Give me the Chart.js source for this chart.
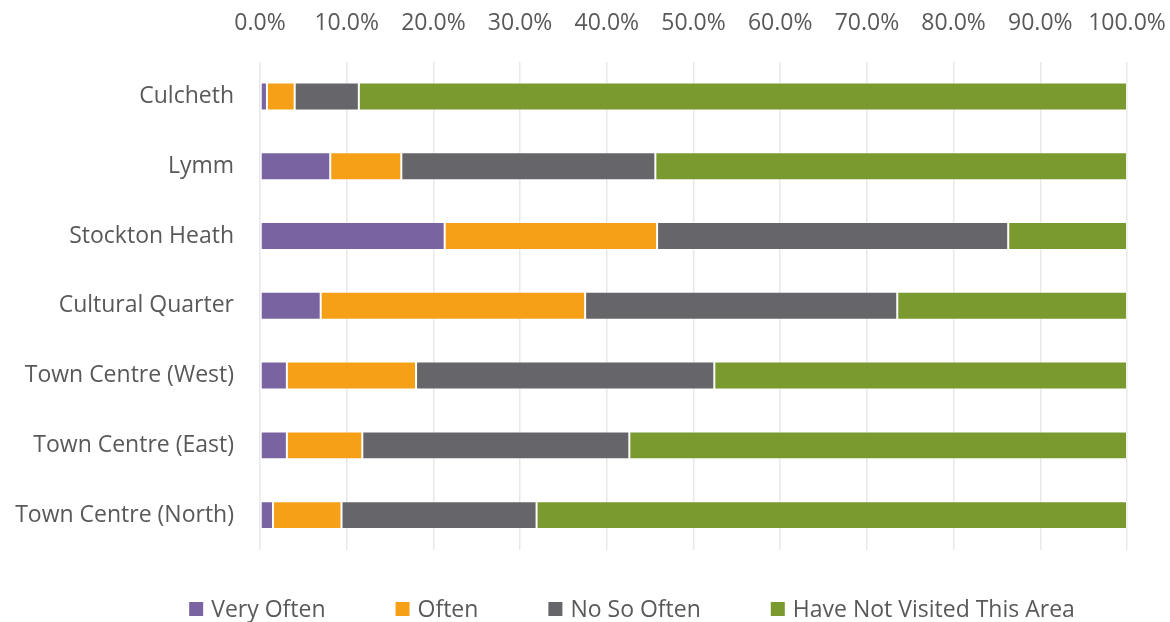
<!DOCTYPE html>
<html>
<head>
<meta charset="utf-8">
<script src="https://cdn.jsdelivr.net/npm/chart.js@4.4.1/dist/chart.umd.min.js"></script>
<style>
  html, body { margin: 0; padding: 0; background: #fff; }
  #wrap { width: 1170px; height: 622px; position: relative; }
</style>
</head>
<body>
<div id="wrap"><canvas id="c" width="1170" height="622"></canvas></div>
<script>
// Areas of the town, top to bottom
const areas = ['Culcheth', 'Lymm', 'Stockton Heath', 'Cultural Quarter',
  'Town Centre (West)', 'Town Centre (East)', 'Town Centre (North)'];

// Share of respondents (%) for each visit frequency
const veryOften    = [0.8, 8.1, 21.3, 7.0, 3.1, 3.1, 1.5];
const often        = [3.2, 8.2, 24.5, 30.5, 14.9, 8.7, 7.9];
const notSoOften   = [7.4, 29.3, 40.5, 36.0, 34.4, 30.8, 22.5];
const notVisited   = [88.6, 54.4, 13.7, 26.5, 47.6, 57.4, 68.1];

const seriesNames  = ['Very Often', 'Often', 'No So Often', 'Have Not Visited This Area'];
const seriesColors = ['#7963A0', '#F6A018', '#666569', '#7A992E'];

const FONT = 'Open Sans';
const FONT_SIZE = 23;
const TEXT = '#595959';

const datasets = [veryOften, often, notSoOften, notVisited].map((vals, i) => ({
  label: seriesNames[i],
  data: vals,
  backgroundColor: seriesColors[i],
  borderColor: 'rgba(255,255,255,0.35)',
  borderWidth: 1,
  borderSkipped: false,
  barPercentage: 0.8,
  categoryPercentage: 0.5
}));

// Single-row legend under the plot, built from the datasets
const bottomLegend = {
  id: 'bottomLegend',
  afterDraw(chart) {
    const ctx = chart.ctx;
    const box = 14, gap = 8, spacing = 70, centerX = 632, y = 609;
    ctx.save();
    ctx.font = `${FONT_SIZE}px "${FONT}"`;
    ctx.textBaseline = 'middle';
    ctx.textAlign = 'left';
    const items = chart.data.datasets.map(ds => ({
      text: ds.label, color: ds.backgroundColor,
      w: box + gap + ctx.measureText(ds.label).width
    }));
    const total = items.reduce((s, it) => s + it.w, 0) + spacing * (items.length - 1);
    let x = centerX - total / 2;
    items.forEach(it => {
      ctx.fillStyle = it.color;
      ctx.fillRect(x, y - box / 2, box, box);
      ctx.fillStyle = TEXT;
      ctx.fillText(it.text, x + box + gap, y + 1);
      x += it.w + spacing;
    });
    ctx.restore();
  }
};

new Chart(document.getElementById('c'), {
  type: 'bar',
  data: { labels: areas, datasets },
  plugins: [bottomLegend],
  options: {
    indexAxis: 'y',
    responsive: false,
    animation: false,
    layout: { padding: { left: 10, right: 43, top: -14, bottom: 72 } },
    scales: {
      x: {
        position: 'top',
        stacked: true,
        min: 0,
        max: 100,
        ticks: {
          stepSize: 10,
          maxRotation: 0,
          autoSkip: false,
          color: TEXT,
          font: { family: FONT, size: FONT_SIZE },
          padding: 24,
          callback: v => v.toFixed(1) + '%'
        },
        grid: { color: '#E8E8E8', lineWidth: 1.5, drawTicks: false },
        border: { display: false },
        // end labels may overhang the plot edges
        afterFit: s => { s.paddingLeft = 0; s.paddingRight = 0; }
      },
      y: {
        stacked: true,
        ticks: {
          color: TEXT,
          font: { family: FONT, size: FONT_SIZE },
          padding: 26
        },
        grid: { display: false, drawTicks: false },
        border: { display: false },
        afterFit: s => { s.width = 250; }
      }
    },
    plugins: {
      tooltip: { enabled: false },
      legend: { display: false }
    }
  }
});
</script>
</body>
</html>
